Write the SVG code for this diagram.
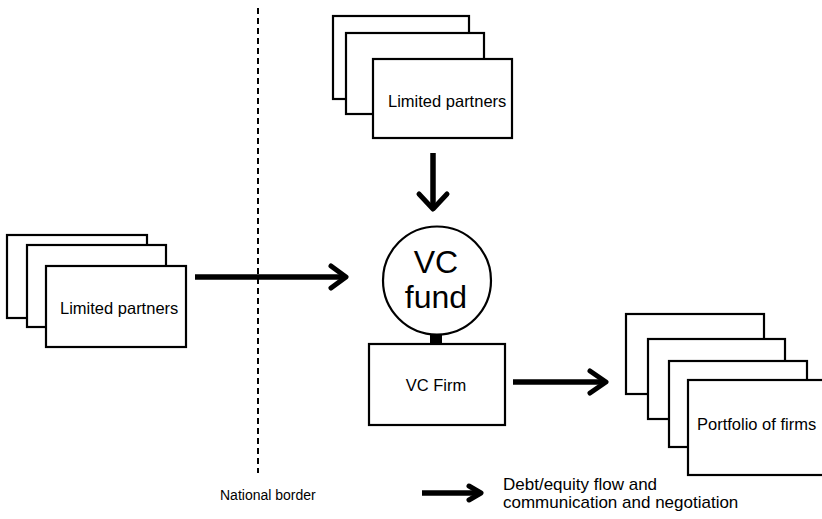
<svg xmlns="http://www.w3.org/2000/svg" width="822" height="519" viewBox="0 0 822 519">
  <style>
    .box { fill: #fff; stroke: #000; stroke-width: 2.2; }
    .txt { font-family: "Liberation Sans", Arial, sans-serif; fill: #000; }
    .flow { fill: none; stroke: #000; stroke-width: 5.5; }
    .head { fill: none; stroke: #000; stroke-width: 5; stroke-linecap: round; stroke-linejoin: round; }
    .border { stroke: #000; stroke-width: 2; stroke-dasharray: 6 4; }
  </style>

  <!-- national border -->
  <line class="border" x1="258" y1="8" x2="258" y2="473"/>

  <!-- top limited partners -->
  <g id="lp-top">
    <rect class="box" x="333" y="16" width="136" height="83"/>
    <rect class="box" x="346" y="33" width="138" height="81"/>
    <rect class="box" x="373" y="59" width="139" height="79"/>
    <text class="txt" x="388" y="107" font-size="16.5">Limited partners</text>
  </g>

  <!-- foreign limited partners -->
  <g id="lp-left">
    <rect class="box" x="7" y="235" width="140" height="83"/>
    <rect class="box" x="27" y="245" width="139" height="82"/>
    <rect class="box" x="46" y="266" width="140" height="81"/>
    <text class="txt" x="60" y="314" font-size="16.5">Limited partners</text>
  </g>

  <!-- VC fund -->
  <g id="vc-fund">
    <circle cx="437" cy="280.5" r="54" fill="#fff" stroke="#000" stroke-width="2.2"/>
    <text class="txt" x="436" y="273" font-size="32" text-anchor="middle">VC</text>
    <text class="txt" x="436" y="308" font-size="32" text-anchor="middle">fund</text>
  </g>

  <!-- VC firm -->
  <g id="vc-firm">
    <rect class="box" x="369" y="344" width="136" height="81"/>
    <text class="txt" x="436" y="391" font-size="16.5" text-anchor="middle">VC Firm</text>
  </g>

  <!-- portfolio of firms -->
  <g id="portfolio">
    <rect class="box" x="626" y="314" width="138" height="80"/>
    <rect class="box" x="648" y="339" width="137" height="80"/>
    <rect class="box" x="669" y="361" width="138" height="86"/>
    <rect class="box" x="688" y="380" width="140" height="95"/>
    <text class="txt" x="697" y="430" font-size="16.5">Portfolio of firms</text>
  </g>

  <!-- connectors -->
  <g id="connectors">
    <!-- fund to firm stem -->
    <rect x="430" y="334" width="12" height="11" fill="#000"/>
    <!-- top LPs to fund -->
    <line class="flow" x1="433" y1="153" x2="433" y2="208"/>
    <polyline class="head" points="419,194 433,209 447,194"/>
    <!-- foreign LPs to fund -->
    <line class="flow" x1="195" y1="277" x2="345" y2="277"/>
    <polyline class="head" points="331,266 346,277 331,288"/>
    <!-- firm to portfolio -->
    <line class="flow" x1="513" y1="382" x2="605" y2="382"/>
    <polyline class="head" points="590,371 606,382 590,393"/>
  </g>

  <!-- legend -->
  <g id="legend">
    <text class="txt" x="220" y="500" font-size="14">National border</text>
    <line class="flow" x1="422" y1="493" x2="480" y2="493"/>
    <polyline class="head" points="469,486 481,493 469,500"/>
    <text class="txt" x="503" y="490" font-size="17">Debt/equity flow and</text>
    <text class="txt" x="503" y="508" font-size="17">communication and negotiation</text>
  </g>
</svg>
